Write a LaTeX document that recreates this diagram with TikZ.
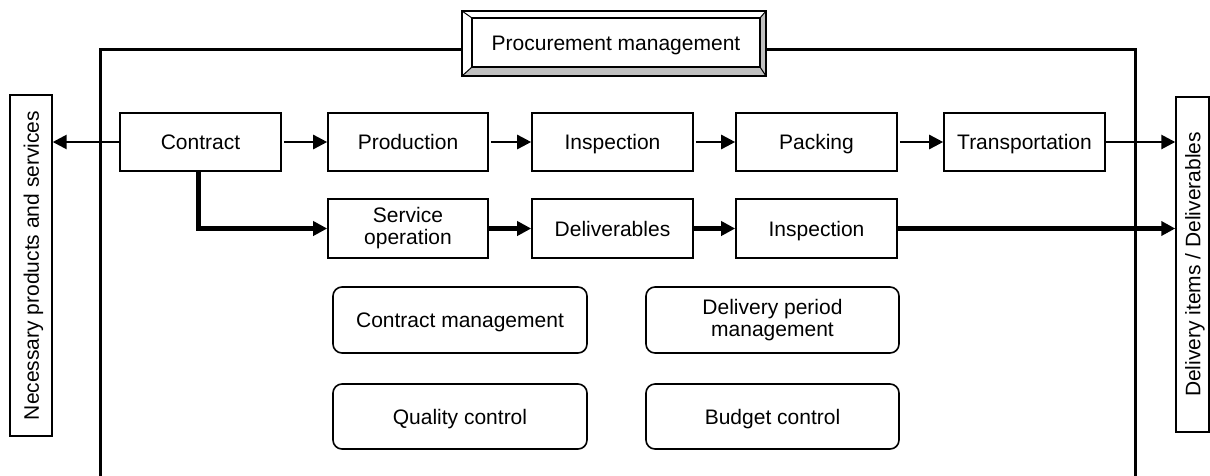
\documentclass[tikz,border=0pt]{standalone}
\usepackage{fontspec}
\setmainfont{Liberation Sans}
\usetikzlibrary{arrows.meta,calc}
\definecolor{bevelgray}{HTML}{C0C0C0}
\begin{document}
\begin{tikzpicture}[x=1pt,y=-1pt,
  every node/.style={font=\fontsize{21}{22}\selectfont, align=center, inner sep=0pt},
  sl/.style={text height=17pt, text depth=1.4pt},
  pbox/.style={draw, line width=1.6pt, minimum width=161pt, minimum height=58pt},
  rbox/.style={draw, line width=1.6pt, rounded corners=9pt, minimum width=254pt, minimum height=66pt},
  sidebox/.style={draw, line width=1.4pt, rotate=90, text height=17pt, text depth=1.4pt},
  thinarrow/.style={line width=2.6pt, -{Triangle[length=14pt,width=14pt]}},
  thickarrow/.style={line width=5pt, -{Triangle[length=14pt,width=14pt]}},
  frameline/.style={line width=3pt}]
\useasboundingbox (0,0) rectangle (1210,475);

% frame
\draw[frameline] (100,480) -- (100,49) -- (462,49);
\draw[frameline] (766,49) -- (1135,49) -- (1135,480);

% title with bevel
\coordinate (tc) at (616,42.5);
\coordinate (inw) at ($(tc)+(-144,-24.5)$);
\coordinate (ine) at ($(tc)+(144,-24.5)$);
\coordinate (isw) at ($(tc)+(-144,24.5)$);
\coordinate (ise) at ($(tc)+(144,24.5)$);
\coordinate (onw) at ($(inw)+(-10,-7)$);
\coordinate (one) at ($(ine)+(6,-7)$);
\coordinate (osw) at ($(isw)+(-10,9)$);
\coordinate (ose) at ($(ise)+(6,9)$);
\fill[white] (onw) rectangle (ose);
\fill[bevelgray] (osw) -- (ose) -- (ise) -- (isw) -- cycle;
\fill[bevelgray] (one) -- (ose) -- (ise) -- (ine) -- cycle;
\draw[line width=1.4pt] (onw) rectangle (ose);
\draw[line width=1pt] (onw) -- (inw) (one) -- (ine) (osw) -- (isw) (ose) -- (ise);
\node[sl, draw, line width=1.4pt, minimum width=288pt, minimum height=49pt] (title) at (tc) {Procurement management};

% side boxes
\node[sidebox, minimum width=341pt, minimum height=42pt] (lside) at (31,265.5) {Necessary products and services};
\node[sidebox, minimum width=335pt, minimum height=33pt] (rside) at (1192.5,264.5) {Delivery items / Deliverables};

% top row
\node[pbox, sl] (contract) at (200.5,142) {Contract};
\node[pbox, sl, minimum width=160pt] (production) at (408,142) {Production};
\node[pbox, sl] (insp1) at (612.5,142) {Inspection};
\node[pbox, sl] (packing) at (816.5,142) {Packing};
\node[pbox, sl] (transport) at (1024.5,142) {Transportation};

% second row
\node[pbox, minimum width=160pt, minimum height=59pt] (service) at (408,228.5) {Service\\operation};
\node[pbox, sl, minimum height=59pt] (deliv) at (612.5,228.5) {Deliverables};
\node[pbox, sl, minimum height=59pt] (insp2) at (816.5,228.5) {Inspection};

% management boxes
\node[rbox, sl] (cm) at (460,320) {Contract management};
\node[rbox, minimum width=253pt] (dpm) at (772.5,320) {Delivery period\\management};
\node[rbox, sl, minimum height=65pt] (qc) at (460,416.5) {Quality control};
\node[rbox, sl, minimum width=253pt, minimum height=65pt] (bc) at (772.5,416.5) {Budget control};

% connectors top row
\draw[thinarrow] (contract.west) -- (contract.west -| lside.south);
\draw[thinarrow] ([xshift=2pt]contract.east) -- (production.west);
\draw[thinarrow] ([xshift=2pt]production.east) -- (insp1.west);
\draw[thinarrow] ([xshift=2pt]insp1.east) -- (packing.west);
\draw[thinarrow] ([xshift=2pt]packing.east) -- (transport.west);
\draw[thinarrow] (transport.east) -- (transport.east -| rside.north);

% connectors second row
\draw[thickarrow] ([xshift=-2.5pt]contract.south) |- (service.west);
\draw[thickarrow] (service.east) -- (deliv.west);
\draw[thickarrow] (deliv.east) -- (insp2.west);
\draw[thickarrow] (insp2.east) -- (insp2.east -| rside.north);
\end{tikzpicture}
\end{document}
